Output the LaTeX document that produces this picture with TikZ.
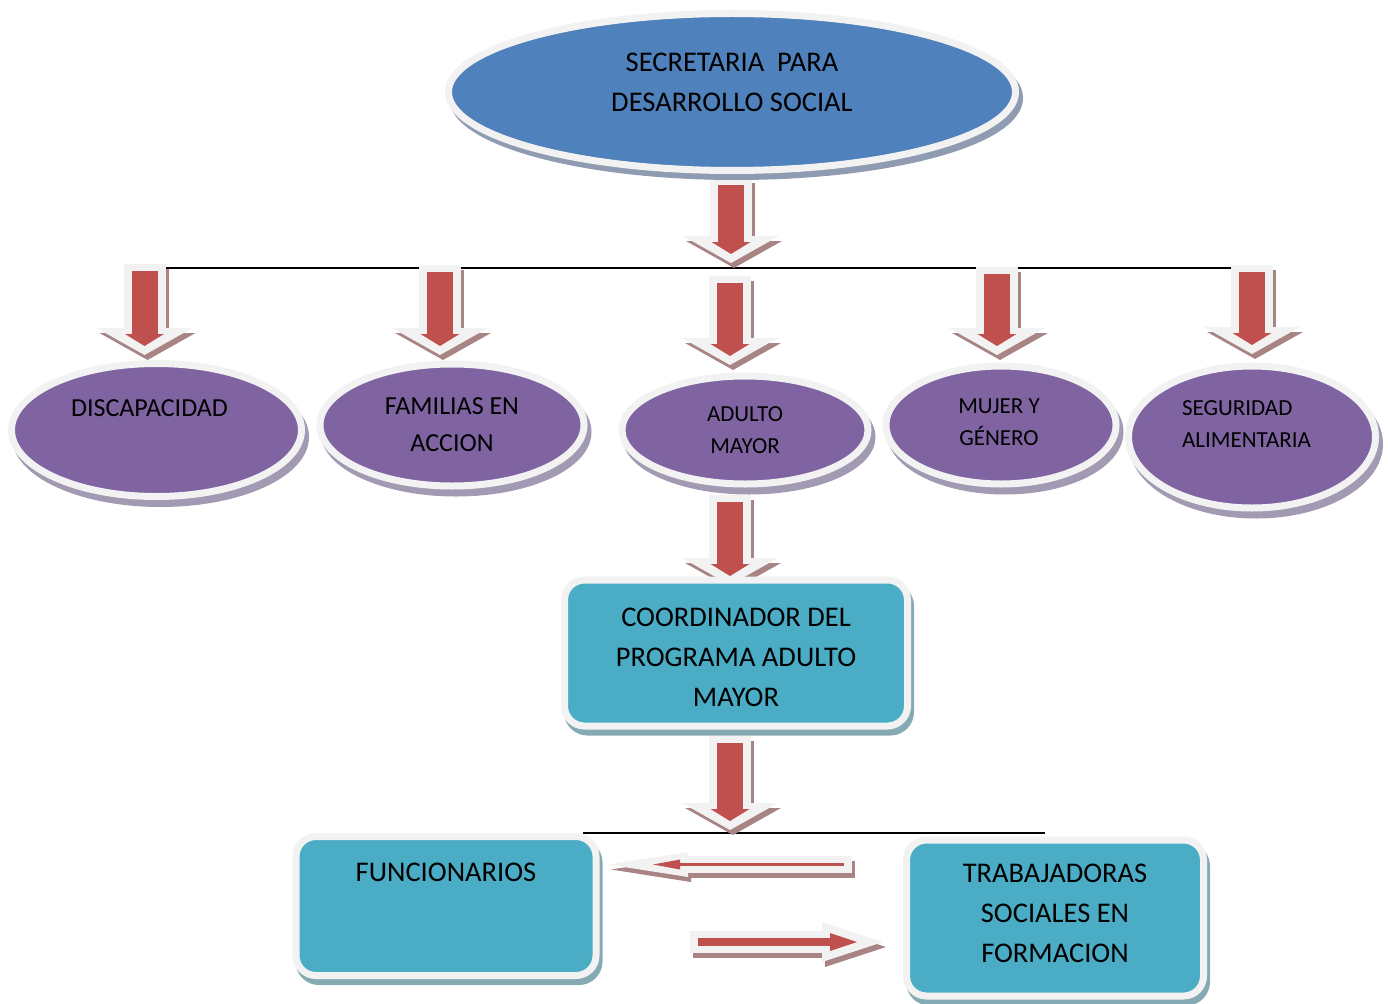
\documentclass[tikz,border=0pt]{standalone}
\usepackage{fontspec}
\setmainfont{Carlito}
\usepackage{tikz}
\usetikzlibrary{arrows.meta,shapes.geometric,shadows,backgrounds}

\definecolor{secblue}{HTML}{4F81BD}
\definecolor{progpurple}{HTML}{8064A2}
\definecolor{boxteal}{HTML}{4BACC6}
\definecolor{arrred}{HTML}{C0504D}
\definecolor{ringwhite}{HTML}{F2F2F2}
\definecolor{shblue}{HTML}{8E9BB0}
\definecolor{shpurple}{HTML}{A29AB2}
\definecolor{shteal}{HTML}{86AAB4}
\definecolor{shred}{HTML}{A88484}

\newcommand{\fbig}{\fontsize{28.5}{40}\selectfont}
\newcommand{\fmid}{\fontsize{26}{37}\selectfont}
\newcommand{\fsmall}{\fontsize{23}{32.5}\selectfont}

\tikzstyle{secretaria}=[ellipse,
line width=7pt,
draw=ringwhite,
fill=secblue,
align=center,
general shadow={fill=shblue,draw=shblue,shadow xshift=4pt,shadow yshift=-6pt}]
\tikzstyle{programa}=[ellipse,
line width=7pt,
draw=ringwhite,
fill=progpurple,
align=center,
general shadow={fill=shpurple,draw=shpurple,shadow xshift=4pt,shadow yshift=-7pt}]
\tikzstyle{cargo}=[rectangle,
rounded corners=20pt,
line width=7pt,
draw=ringwhite,
fill=boxteal,
align=center,
font=\fbig,
general shadow={fill=shteal,draw=shteal,shadow xshift=3pt,shadow yshift=-6pt}]
\tikzstyle{txtbig}=[font=\fbig,align=center]
\tikzstyle{txtsmall}=[font=\fsmall,align=left]
\tikzstyle{bus}=[draw=black,line width=1.6pt]

\tikzset{
  flecha/.style n args={3}{line width=#1,-{Triangle[width=#2,length=#3,line width=0pt]}},
  sombra/.style={draw=shred,transform canvas={xshift=3pt,yshift=-5pt}},
  borde/.style={draw=ringwhite},
  relleno/.style={draw=arrred}
}

\begin{document}
\begin{tikzpicture}[x=1pt,y=-1pt]
		\path[use as bounding box] (0,0) rectangle (1388,1003);

		% Secretaria at the top
		\node (secr) [secretaria, minimum width=567pt, minimum height=157pt,
		label={[txtbig,yshift=10pt]center:{SECRETARIA\ \ PARA\\DESARROLLO SOCIAL}}] at (732,92) {};

		% Second line: the five programmes
		\node (disc) [programa, minimum width=290pt, minimum height=133pt,
		label={[font=\fmid,xshift=-7pt,yshift=22pt]center:DISCAPACIDAD}] at (156.5,430) {};
		\node (fam) [programa, minimum width=264pt, minimum height=122pt, font=\fmid] at (452,425) {FAMILIAS EN\\ACCION};
		\node (adulto) [programa, minimum width=246pt, minimum height=108pt, font=\fsmall] at (745,430) {ADULTO\\MAYOR};
		\node (mujer) [programa, minimum width=230pt, minimum height=118pt,
		label={[font=\fsmall,align=center,xshift=-2pt,yshift=3pt]center:{MUJER Y\\GÉNERO}}] at (1001,425) {};
		\node (segur) [programa, minimum width=247pt, minimum height=142pt,
		label={[txtsmall,xshift=-5.5pt,yshift=13pt]center:{SEGURIDAD\\ALIMENTARIA}}] at (1252,437) {};

		% Coordinator and the two teams below it
		\node (coord) [cargo, minimum width=343pt, minimum height=146pt,
		label={[txtbig,yshift=-4pt]center:{COORDINADOR DEL\\PROGRAMA ADULTO\\MAYOR}}] at (736,653) {};
		\node (func) [cargo, minimum width=300pt, minimum height=139pt,
		label={[txtbig,yshift=34pt]center:FUNCIONARIOS}] at (446,906) {};
		\node (trab) [cargo, minimum width=297pt, minimum height=156pt,
		label={[txtbig,yshift=5pt]center:{TRABAJADORAS\\SOCIALES EN\\FORMACION}}] at (1055,918) {};

		% End points of the block arrows and of the two bars
		\coordinate (s0) at (731,178);   \coordinate (e0) at (731,263);
		\coordinate (s1) at (144.5,264); \coordinate (e1) at (144.5,355);
		\coordinate (s2) at (440,265);   \coordinate (e2) at (440,355);
		\coordinate (s3) at (730,276);   \coordinate (e3) at (730,365);
		\coordinate (s4) at (997,267);   \coordinate (e4) at (997,355);
		\coordinate (s5) at (1252,265);  \coordinate (e5) at (1252,354);
		\coordinate (s6) at (730,495);   \coordinate (e6) at (730,585);
		\coordinate (s7) at (730,736);   \coordinate (e7) at (730,830);
		\coordinate (sL) at (852,864.5); \coordinate (eL) at (608,864.5);
		\coordinate (sR) at (690,942);   \coordinate (eR) at (883,942);
		\coordinate (busL) at (163,268); \coordinate (busR) at (1232,268);
		\coordinate (bus2L) at (583,833); \coordinate (bus2R) at (1045,833);

		% Bars and arrows go behind the shapes
		\begin{pgfonlayer}{background}
		\draw[bus] (busL) -- (busR);
		\draw[bus] (bus2L) -- (bus2R);
		\foreach \a in {0,...,7} {
			\draw[sombra, flecha={42pt}{96pt}{27pt}] (s\a) -- (e\a);
			\draw[borde, flecha={42pt}{96pt}{27pt}] (s\a) -- (e\a);
			\draw[relleno, flecha={26pt}{39pt}{12pt}, shorten <=7pt, shorten >=9pt] (s\a) -- (e\a);
		}
		% from the social workers to the staff
		\draw[sombra, flecha={17pt}{25pt}{80pt}] (sL) -- (eL);
		\draw[borde, flecha={17pt}{25pt}{80pt}] (sL) -- (eL);
		\draw[relleno, flecha={3.5pt}{10pt}{27pt}, shorten <=8pt, shorten >=45pt] (sL) -- (eL);
		% from the staff to the social workers
		\draw[sombra, flecha={22pt}{40pt}{61pt}] (sR) -- (eR);
		\draw[borde, flecha={22pt}{40pt}{61pt}] (sR) -- (eR);
		\draw[relleno, flecha={8pt}{18pt}{27pt}, shorten <=8pt, shorten >=26pt] (sR) -- (eR);
		\end{pgfonlayer}
\end{tikzpicture}
\end{document}
